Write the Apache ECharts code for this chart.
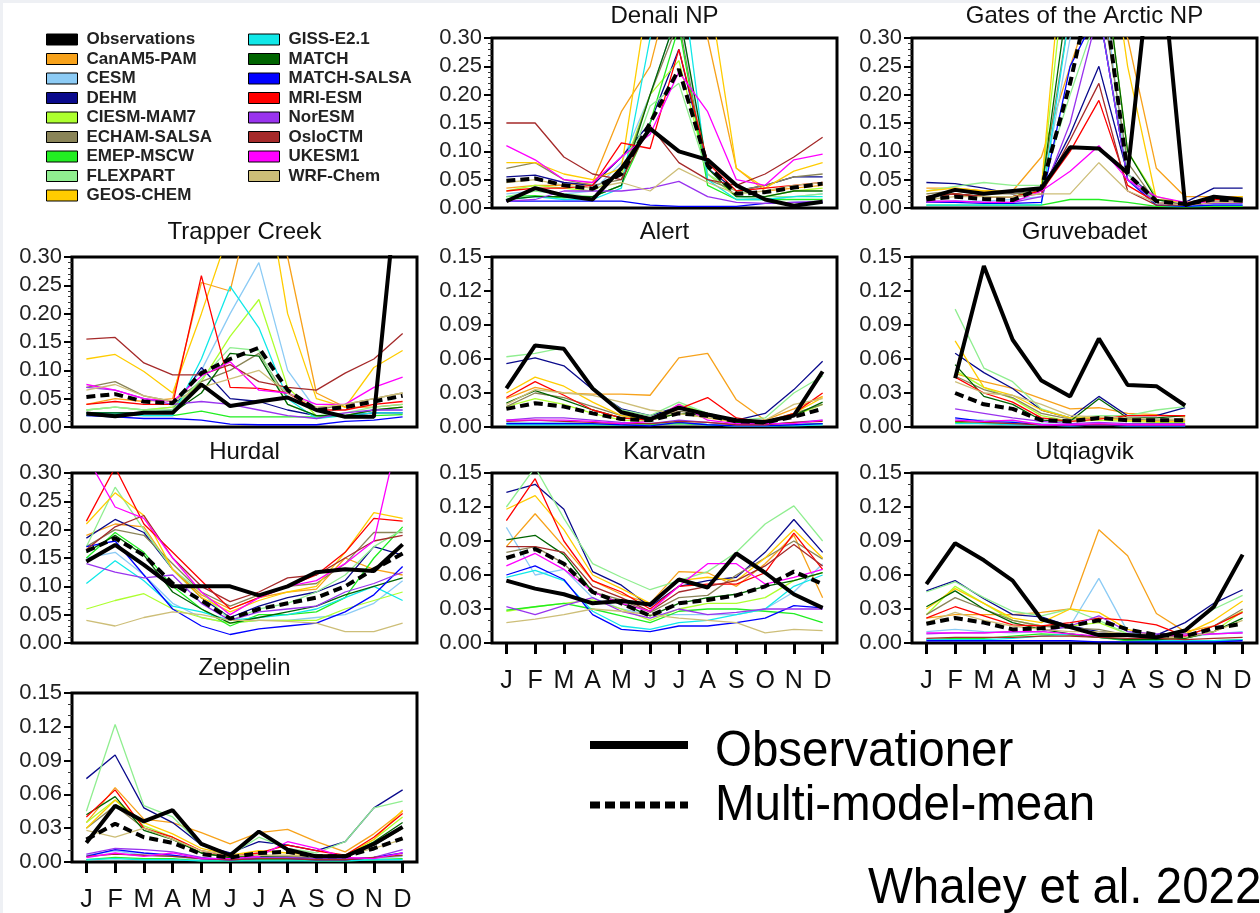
<!DOCTYPE html>
<html>
<head>
<meta charset="utf-8">
<script src="https://cdn.jsdelivr.net/npm/echarts@6/dist/echarts.min.js"></script>
<style>
  html, body { margin: 0; padding: 0; background: #fff; }
  #chart { width: 1260px; height: 913px; }
</style>
</head>
<body>
<div id="chart"></div>
<script>
// Monthly mean concentrations at Arctic / sub-Arctic stations: observations,
// 16 models and their multi-model mean.
const months = ['Jan','Feb','Mar','Apr','May','Jun','Jul','Aug','Sep','Oct','Nov','Dec'];
const monthLabels = ['J','F','M','A','M','J','J','A','S','O','N','D'];

const modelNames = ['CanAM5-PAM','CESM','DEHM','CIESM-MAM7','ECHAM-SALSA','EMEP-MSCW','FLEXPART','GEOS-CHEM',
  'GISS-E2.1','MATCH','MATCH-SALSA','MRI-ESM','NorESM','OsloCTM','UKESM1','WRF-Chem'];
const modelColors = ['#F7A21B','#8CCBF5','#0A0A8C','#ADFF2F','#8A8458','#22EE22','#90EE90','#FFCC00',
  '#11E8E8','#006400','#0000FF','#FF0000','#9933EE','#A52A2A','#FF00FF','#CDBE78'];

// ---- Denali NP ----
const denaliObs  = [0.012,0.035,0.022,0.015,0.070,0.140,0.100,0.085,0.040,0.015,0.004,0.011];
const denaliMean = [0.048,0.052,0.040,0.034,0.060,0.150,0.245,0.075,0.025,0.028,0.036,0.043];
const denaliModels = [
  [0.035,0.040,0.040,0.045,0.170,0.250,0.450,0.300,0.070,0.030,0.035,0.040],
  [0.025,0.030,0.025,0.030,0.080,0.200,0.350,0.060,0.020,0.015,0.020,0.025],
  [0.055,0.058,0.045,0.040,0.090,0.150,0.280,0.070,0.030,0.040,0.055,0.055],
  [0.030,0.040,0.035,0.030,0.060,0.200,0.260,0.060,0.020,0.020,0.030,0.035],
  [0.070,0.080,0.050,0.040,0.050,0.200,0.330,0.050,0.030,0.040,0.055,0.060],
  [0.020,0.022,0.018,0.020,0.040,0.150,0.320,0.040,0.015,0.015,0.015,0.015],
  [0.020,0.030,0.025,0.020,0.040,0.180,0.220,0.060,0.030,0.020,0.020,0.025],
  [0.080,0.080,0.060,0.050,0.070,0.400,0.600,0.400,0.070,0.035,0.065,0.080],
  [0.015,0.020,0.015,0.015,0.035,0.300,0.450,0.050,0.015,0.015,0.020,0.020],
  [0.015,0.020,0.020,0.020,0.040,0.200,0.350,0.070,0.020,0.020,0.030,0.030],
  [0.012,0.012,0.012,0.012,0.012,0.005,0.003,0.003,0.003,0.008,0.010,0.010],
  [0.030,0.035,0.035,0.040,0.115,0.105,0.280,0.080,0.030,0.035,0.040,0.045],
  [0.012,0.015,0.030,0.030,0.030,0.035,0.047,0.020,0.010,0.008,0.010,0.012],
  [0.150,0.150,0.090,0.060,0.050,0.145,0.080,0.050,0.040,0.060,0.090,0.125],
  [0.110,0.085,0.050,0.045,0.090,0.130,0.240,0.170,0.050,0.040,0.085,0.095],
  [0.045,0.050,0.040,0.035,0.045,0.030,0.070,0.045,0.025,0.030,0.040,0.045]
];

// ---- Gates of the Arctic NP ----
const gatesObs  = [0.017,0.032,0.025,0.030,0.035,0.107,0.105,0.062,0.530,0.005,0.020,0.015];
const gatesMean = [0.015,0.020,0.016,0.014,0.035,0.220,0.450,0.060,0.012,0.007,0.015,0.013];
const gatesModels = [
  [0.035,0.035,0.030,0.030,0.090,0.250,0.400,0.300,0.070,0.020,0.020,0.020],
  [0.012,0.012,0.012,0.015,0.020,0.300,0.450,0.050,0.010,0.005,0.010,0.010],
  [0.045,0.043,0.035,0.025,0.030,0.130,0.250,0.060,0.015,0.010,0.035,0.035],
  [0.020,0.025,0.020,0.020,0.035,0.500,0.500,0.100,0.020,0.008,0.015,0.015],
  [0.025,0.030,0.025,0.025,0.030,0.350,0.400,0.080,0.010,0.005,0.015,0.015],
  [0.005,0.005,0.005,0.005,0.005,0.015,0.015,0.010,0.003,0.002,0.003,0.003],
  [0.030,0.038,0.045,0.040,0.040,0.200,0.350,0.060,0.010,0.005,0.015,0.015],
  [0.030,0.035,0.030,0.030,0.035,0.600,0.600,0.250,0.015,0.010,0.015,0.020],
  [0.005,0.005,0.005,0.005,0.006,0.350,0.350,0.050,0.005,0.003,0.005,0.005],
  [0.020,0.025,0.020,0.020,0.030,0.400,0.500,0.100,0.015,0.005,0.010,0.010],
  [0.010,0.010,0.008,0.008,0.010,0.250,0.350,0.050,0.005,0.003,0.005,0.005],
  [0.020,0.025,0.020,0.020,0.030,0.100,0.190,0.040,0.010,0.005,0.015,0.015],
  [0.010,0.012,0.010,0.010,0.020,0.150,0.350,0.050,0.010,0.005,0.008,0.008],
  [0.020,0.025,0.020,0.020,0.025,0.120,0.220,0.030,0.005,0.005,0.010,0.010],
  [0.012,0.012,0.010,0.010,0.030,0.065,0.110,0.050,0.020,0.010,0.010,0.010],
  [0.015,0.020,0.020,0.020,0.025,0.025,0.080,0.030,0.010,0.005,0.010,0.010]
];

// ---- Trapper Creek ----
const trapperObs  = [0.024,0.019,0.025,0.025,0.075,0.037,0.045,0.052,0.030,0.018,0.018,0.520];
const trapperMean = [0.053,0.058,0.045,0.042,0.095,0.120,0.140,0.065,0.030,0.035,0.045,0.055];
const trapperModels = [
  [0.040,0.050,0.045,0.050,0.255,0.240,0.450,0.300,0.060,0.035,0.035,0.040],
  [0.030,0.035,0.030,0.035,0.100,0.200,0.290,0.100,0.030,0.020,0.030,0.030],
  [0.025,0.025,0.025,0.030,0.105,0.050,0.045,0.030,0.020,0.020,0.025,0.025],
  [0.030,0.035,0.030,0.035,0.080,0.160,0.225,0.070,0.020,0.020,0.030,0.035],
  [0.070,0.080,0.055,0.045,0.080,0.100,0.130,0.050,0.030,0.040,0.050,0.060],
  [0.020,0.022,0.020,0.020,0.028,0.018,0.018,0.018,0.018,0.020,0.020,0.022],
  [0.030,0.035,0.030,0.030,0.085,0.140,0.135,0.040,0.020,0.025,0.035,0.040],
  [0.120,0.128,0.098,0.060,0.200,0.350,0.500,0.200,0.050,0.035,0.105,0.135],
  [0.025,0.025,0.020,0.020,0.120,0.248,0.175,0.050,0.015,0.020,0.025,0.025],
  [0.025,0.025,0.025,0.025,0.060,0.130,0.125,0.040,0.020,0.020,0.030,0.035],
  [0.020,0.018,0.015,0.015,0.012,0.005,0.004,0.004,0.004,0.010,0.012,0.018],
  [0.040,0.045,0.040,0.040,0.267,0.070,0.068,0.060,0.030,0.030,0.040,0.045],
  [0.070,0.065,0.050,0.040,0.045,0.040,0.030,0.020,0.015,0.025,0.030,0.030],
  [0.155,0.158,0.113,0.092,0.092,0.110,0.080,0.070,0.065,0.095,0.120,0.165],
  [0.075,0.065,0.050,0.045,0.090,0.115,0.065,0.060,0.040,0.040,0.070,0.088],
  [0.065,0.075,0.055,0.045,0.070,0.085,0.100,0.060,0.035,0.040,0.050,0.060]
];

// ---- Alert ----
const alertObs  = [0.034,0.072,0.069,0.034,0.013,0.007,0.017,0.011,0.006,0.0045,0.010,0.049];
const alertMean = [0.016,0.021,0.018,0.012,0.007,0.006,0.012,0.010,0.005,0.004,0.009,0.016];
const alertModels = [
  [0.025,0.035,0.030,0.029,0.029,0.028,0.061,0.065,0.024,0.006,0.016,0.027],
  [0.004,0.004,0.004,0.003,0.002,0.002,0.003,0.002,0.001,0.001,0.002,0.003],
  [0.056,0.061,0.054,0.033,0.016,0.010,0.018,0.012,0.006,0.012,0.033,0.058],
  [0.018,0.025,0.020,0.012,0.006,0.005,0.020,0.012,0.004,0.004,0.010,0.020],
  [0.018,0.030,0.026,0.018,0.010,0.007,0.014,0.010,0.005,0.005,0.012,0.020],
  [0.003,0.003,0.003,0.002,0.002,0.002,0.003,0.002,0.001,0.001,0.002,0.003],
  [0.062,0.065,0.070,0.035,0.015,0.010,0.022,0.012,0.006,0.008,0.030,0.045],
  [0.030,0.044,0.036,0.022,0.010,0.006,0.012,0.008,0.004,0.004,0.012,0.026],
  [0.002,0.002,0.002,0.002,0.002,0.003,0.004,0.002,0.001,0.001,0.001,0.002],
  [0.021,0.032,0.024,0.015,0.008,0.006,0.012,0.010,0.004,0.004,0.010,0.022],
  [0.003,0.003,0.003,0.003,0.002,0.001,0.004,0.002,0.001,0.001,0.002,0.003],
  [0.026,0.040,0.028,0.015,0.008,0.006,0.016,0.026,0.008,0.004,0.012,0.030],
  [0.006,0.008,0.008,0.006,0.004,0.003,0.006,0.004,0.002,0.002,0.004,0.006],
  [0.005,0.006,0.005,0.004,0.003,0.003,0.005,0.004,0.002,0.002,0.004,0.005],
  [0.006,0.006,0.006,0.005,0.003,0.005,0.020,0.006,0.003,0.003,0.003,0.006],
  [0.020,0.033,0.030,0.028,0.022,0.015,0.012,0.008,0.005,0.006,0.020,0.025]
];

// ---- Gruvebadet (Feb-Oct only) ----
const gruveObs  = [null,0.043,0.142,0.077,0.041,0.027,0.078,0.037,0.036,0.019,null,null];
const gruveMean = [null,0.030,0.020,0.016,0.006,0.005,0.008,0.006,0.006,0.006,null,null];
const gruveModels = [
  [null,0.047,0.040,0.034,0.025,0.016,0.017,0.012,0.011,0.009,null,null],
  [null,0.007,0.006,0.005,0.003,0.002,0.003,0.002,0.002,0.002,null,null],
  [null,0.065,0.048,0.034,0.015,0.008,0.027,0.010,0.010,0.017,null,null],
  [null,0.050,0.035,0.025,0.010,0.005,0.006,0.005,0.004,0.004,null,null],
  [null,0.045,0.033,0.026,0.012,0.007,0.008,0.007,0.006,0.006,null,null],
  [null,0.004,0.003,0.003,0.002,0.001,0.002,0.001,0.001,0.001,null,null],
  [null,0.104,0.052,0.040,0.016,0.008,0.010,0.010,0.015,0.018,null,null],
  [null,0.076,0.035,0.028,0.015,0.008,0.008,0.006,0.005,0.005,null,null],
  [null,0.003,0.003,0.002,0.002,0.001,0.002,0.001,0.001,0.001,null,null],
  [null,0.055,0.027,0.020,0.006,0.005,0.025,0.008,0.008,0.010,null,null],
  [null,0.008,0.005,0.004,0.002,0.001,0.002,0.001,0.001,0.001,null,null],
  [null,0.044,0.030,0.022,0.008,0.005,0.007,0.010,0.010,0.010,null,null],
  [null,0.016,0.012,0.008,0.005,0.003,0.004,0.003,0.003,0.003,null,null],
  [null,0.005,0.004,0.003,0.002,0.002,0.002,0.002,0.002,0.002,null,null],
  [null,0.006,0.005,0.006,0.002,0.002,0.003,0.002,0.002,0.002,null,null],
  [null,0.040,0.030,0.028,0.020,0.010,0.009,0.008,0.007,0.007,null,null]
];

// ---- Hurdal ----
const hurdalObs  = [0.144,0.173,0.138,0.100,0.100,0.100,0.084,0.100,0.125,0.130,0.127,0.174];
const hurdalMean = [0.162,0.185,0.155,0.105,0.075,0.043,0.060,0.070,0.080,0.100,0.130,0.158];
const hurdalModels = [
  [0.190,0.210,0.205,0.130,0.085,0.060,0.080,0.090,0.095,0.150,0.130,0.120],
  [0.150,0.160,0.120,0.070,0.045,0.035,0.040,0.040,0.045,0.050,0.070,0.110],
  [0.185,0.218,0.195,0.130,0.080,0.045,0.065,0.080,0.090,0.110,0.170,0.155],
  [0.060,0.075,0.087,0.060,0.045,0.035,0.040,0.040,0.040,0.060,0.075,0.090],
  [0.170,0.200,0.190,0.140,0.090,0.065,0.085,0.100,0.105,0.140,0.195,0.195],
  [0.150,0.195,0.160,0.100,0.060,0.030,0.050,0.050,0.055,0.080,0.150,0.205],
  [0.170,0.275,0.200,0.130,0.090,0.040,0.060,0.070,0.090,0.120,0.170,0.200],
  [0.210,0.265,0.225,0.130,0.080,0.055,0.075,0.090,0.100,0.160,0.230,0.220],
  [0.105,0.145,0.110,0.065,0.055,0.040,0.045,0.050,0.060,0.080,0.100,0.075],
  [0.160,0.190,0.155,0.090,0.060,0.035,0.045,0.055,0.065,0.085,0.100,0.115],
  [0.170,0.180,0.120,0.060,0.030,0.015,0.025,0.030,0.035,0.055,0.085,0.135],
  [0.215,0.310,0.210,0.160,0.110,0.060,0.080,0.100,0.120,0.160,0.220,0.215],
  [0.140,0.125,0.115,0.120,0.070,0.040,0.055,0.060,0.065,0.090,0.105,0.125],
  [0.165,0.205,0.225,0.150,0.100,0.073,0.090,0.115,0.120,0.150,0.180,0.190],
  [0.330,0.240,0.220,0.150,0.090,0.050,0.080,0.100,0.110,0.140,0.180,0.400],
  [0.040,0.030,0.045,0.055,0.050,0.040,0.040,0.038,0.035,0.020,0.020,0.035]
];

// ---- Karvatn ----
const karvatnObs  = [0.055,0.048,0.043,0.035,0.037,0.034,0.056,0.049,0.079,0.062,0.043,0.031];
const karvatnMean = [0.075,0.083,0.070,0.045,0.035,0.024,0.035,0.038,0.042,0.050,0.063,0.052];
const karvatnModels = [
  [0.085,0.114,0.085,0.055,0.043,0.035,0.063,0.062,0.050,0.070,0.095,0.040],
  [0.102,0.060,0.065,0.040,0.030,0.025,0.025,0.025,0.025,0.030,0.045,0.070],
  [0.133,0.140,0.118,0.063,0.051,0.032,0.050,0.055,0.058,0.080,0.109,0.080],
  [0.028,0.032,0.035,0.038,0.030,0.020,0.030,0.035,0.035,0.040,0.055,0.062],
  [0.080,0.085,0.070,0.045,0.038,0.027,0.040,0.042,0.060,0.075,0.090,0.074],
  [0.029,0.032,0.035,0.030,0.024,0.018,0.028,0.030,0.030,0.028,0.026,0.018],
  [0.120,0.155,0.110,0.070,0.058,0.047,0.055,0.063,0.080,0.105,0.121,0.090],
  [0.118,0.130,0.100,0.060,0.048,0.035,0.055,0.058,0.055,0.075,0.100,0.075],
  [0.058,0.064,0.055,0.028,0.015,0.012,0.018,0.020,0.025,0.030,0.050,0.060],
  [0.091,0.095,0.078,0.045,0.035,0.024,0.035,0.040,0.043,0.050,0.055,0.062],
  [0.060,0.068,0.056,0.025,0.012,0.010,0.015,0.015,0.018,0.022,0.033,0.031],
  [0.108,0.145,0.090,0.055,0.045,0.030,0.050,0.052,0.052,0.062,0.097,0.065],
  [0.032,0.025,0.033,0.040,0.028,0.022,0.030,0.025,0.027,0.030,0.030,0.030],
  [0.085,0.085,0.080,0.050,0.040,0.028,0.045,0.050,0.055,0.068,0.087,0.068],
  [0.068,0.079,0.065,0.045,0.035,0.028,0.050,0.070,0.070,0.052,0.058,0.065],
  [0.018,0.021,0.025,0.030,0.028,0.025,0.022,0.020,0.018,0.009,0.012,0.011]
];

// ---- Utqiagvik ----
const utqObs  = [0.052,0.088,0.073,0.055,0.021,0.014,0.007,0.007,0.005,0.011,0.032,0.078];
const utqMean = [0.017,0.022,0.018,0.012,0.013,0.015,0.020,0.012,0.007,0.006,0.013,0.017];
const utqModels = [
  [0.022,0.025,0.025,0.025,0.027,0.030,0.100,0.077,0.026,0.010,0.015,0.028],
  [0.010,0.012,0.010,0.009,0.010,0.015,0.057,0.010,0.005,0.005,0.008,0.010],
  [0.046,0.055,0.039,0.025,0.023,0.015,0.010,0.008,0.007,0.018,0.035,0.047],
  [0.025,0.050,0.035,0.020,0.015,0.015,0.018,0.008,0.004,0.004,0.010,0.028],
  [0.025,0.040,0.030,0.020,0.015,0.013,0.012,0.007,0.005,0.006,0.015,0.030],
  [0.003,0.004,0.004,0.006,0.008,0.007,0.005,0.002,0.002,0.002,0.002,0.003],
  [0.045,0.054,0.040,0.028,0.024,0.030,0.020,0.008,0.006,0.012,0.030,0.042],
  [0.030,0.048,0.035,0.022,0.018,0.030,0.027,0.012,0.006,0.008,0.020,0.037],
  [0.003,0.003,0.003,0.004,0.006,0.008,0.005,0.003,0.002,0.002,0.002,0.003],
  [0.032,0.046,0.030,0.018,0.012,0.008,0.005,0.003,0.003,0.004,0.010,0.022],
  [0.002,0.002,0.002,0.002,0.002,0.002,0.001,0.001,0.001,0.001,0.001,0.002],
  [0.022,0.032,0.024,0.016,0.015,0.018,0.022,0.020,0.016,0.006,0.015,0.027],
  [0.008,0.009,0.009,0.010,0.010,0.015,0.024,0.010,0.008,0.008,0.008,0.009],
  [0.004,0.005,0.005,0.005,0.006,0.006,0.005,0.004,0.004,0.003,0.004,0.005],
  [0.009,0.009,0.009,0.010,0.010,0.008,0.006,0.006,0.006,0.007,0.008,0.009],
  [0.018,0.027,0.020,0.015,0.012,0.010,0.010,0.008,0.005,0.005,0.010,0.020]
];

// ---- Zeppelin ----
const zepObs  = [0.017,0.050,0.036,0.046,0.016,0.006,0.027,0.011,0.005,0.005,0.016,0.031];
const zepMean = [0.020,0.034,0.022,0.017,0.007,0.004,0.008,0.009,0.005,0.005,0.012,0.021];
const zepModels = [
  [0.035,0.066,0.038,0.035,0.026,0.016,0.026,0.029,0.018,0.009,0.025,0.045],
  [0.006,0.010,0.006,0.005,0.002,0.002,0.003,0.003,0.002,0.002,0.003,0.005],
  [0.074,0.095,0.048,0.035,0.015,0.008,0.018,0.015,0.010,0.018,0.048,0.064],
  [0.035,0.055,0.032,0.022,0.008,0.004,0.006,0.005,0.003,0.005,0.020,0.040],
  [0.030,0.050,0.030,0.020,0.008,0.004,0.006,0.005,0.004,0.005,0.015,0.030],
  [0.002,0.004,0.003,0.003,0.001,0.001,0.002,0.002,0.001,0.001,0.002,0.003],
  [0.045,0.122,0.050,0.040,0.015,0.006,0.022,0.012,0.008,0.018,0.048,0.054],
  [0.030,0.055,0.035,0.025,0.012,0.006,0.010,0.008,0.006,0.006,0.020,0.046],
  [0.002,0.003,0.002,0.002,0.001,0.001,0.001,0.001,0.001,0.001,0.002,0.002],
  [0.042,0.058,0.028,0.020,0.008,0.004,0.005,0.004,0.003,0.005,0.018,0.035],
  [0.005,0.011,0.008,0.006,0.003,0.002,0.003,0.003,0.002,0.002,0.004,0.008],
  [0.040,0.064,0.030,0.022,0.010,0.005,0.008,0.015,0.010,0.006,0.022,0.043],
  [0.007,0.012,0.011,0.009,0.004,0.002,0.004,0.004,0.003,0.003,0.004,0.011],
  [0.005,0.007,0.006,0.005,0.003,0.002,0.003,0.003,0.002,0.002,0.004,0.006],
  [0.004,0.008,0.005,0.008,0.003,0.003,0.005,0.018,0.012,0.004,0.003,0.008],
  [0.028,0.022,0.030,0.020,0.010,0.006,0.006,0.006,0.005,0.006,0.012,0.020]
];

const stationTitles = ['Denali NP','Gates of the Arctic NP','Trapper Creek','Alert','Gruvebadet',
  'Hurdal','Karvatn','Utqiagvik','Zeppelin'];
const stationObs   = [denaliObs, gatesObs, trapperObs, alertObs, gruveObs, hurdalObs, karvatnObs, utqObs, zepObs];
const stationMean  = [denaliMean, gatesMean, trapperMean, alertMean, gruveMean, hurdalMean, karvatnMean, utqMean, zepMean];
const stationModels = [denaliModels, gatesModels, trapperModels, alertModels, gruveModels, hurdalModels, karvatnModels, utqModels, zepModels];
const stationYMax  = [0.30, 0.30, 0.30, 0.15, 0.15, 0.30, 0.15, 0.15, 0.15];

// ---- panel layout (pixels) ----
const panelLeft = [492, 912, 72, 492, 912, 72, 492, 912, 72];
const panelTop  = [38, 38, 257, 257, 257, 473, 473, 473, 693];
const panelW = 345, panelH = 170;
const titleTop  = [4, 4, 220, 220, 220, 440, 440, 440, 656];
const showMonths = [false, false, false, false, false, false, true, true, true];

const REG = "'Liberation Sans', Arial, Helvetica, sans-serif";

const grids = [], xAxes = [], yAxes = [], titles = [], series = [];

stationTitles.forEach((name, i) => {
  grids.push({
    left: panelLeft[i], top: panelTop[i], width: panelW, height: panelH,
    show: true, borderColor: '#000', borderWidth: 3, backgroundColor: 'transparent'
  });
  xAxes.push({
    type: 'category', gridIndex: i, data: months, boundaryGap: true,
    axisLine: { show: false },
    axisTick: { show: showMonths[i], alignWithLabel: true, length: 11, inside: false,
      lineStyle: { color: '#000', width: 3 } },
    axisLabel: { show: showMonths[i], interval: 0, margin: 26, color: '#111',
      fontSize: 25, fontFamily: REG, formatter: (v, idx) => monthLabels[idx] },
    splitLine: { show: false }
  });
  const ymax = stationYMax[i];
  yAxes.push({
    type: 'value', gridIndex: i, min: 0, max: ymax, interval: ymax === 0.30 ? 0.05 : 0.03,
    axisLine: { show: false },
    axisTick: { show: true, length: 8, inside: false, lineStyle: { color: '#000', width: 2 } },
    minorTick: { show: true, splitNumber: ymax === 0.30 ? 5 : 3, length: 4,
      lineStyle: { color: '#333', width: 1 } },
    axisLabel: { margin: 10, color: '#222', fontSize: 22, fontFamily: REG,
      formatter: v => v.toFixed(2) },
    splitLine: { show: false }
  });
  titles.push({
    text: name, left: panelLeft[i] + panelW / 2, top: titleTop[i], textAlign: 'center',
    padding: 0,
    textStyle: { fontSize: 24, fontWeight: 'normal', color: '#111', fontFamily: REG }
  });

  stationModels[i].forEach((vals, j) => {
    series.push({
      type: 'line', name: modelNames[j], xAxisIndex: i, yAxisIndex: i, data: vals,
      color: modelColors[j], symbol: 'none', silent: true, z: 2,
      lineStyle: { width: 1.3, color: modelColors[j] }
    });
  });
  series.push({
    type: 'line', name: 'Multi-model-mean', xAxisIndex: i, yAxisIndex: i, data: stationMean[i],
    color: '#000', symbol: 'none', silent: true, z: 3,
    lineStyle: { width: 4, color: '#000', type: [9, 5] }
  });
  series.push({
    type: 'line', name: 'Observations', xAxisIndex: i, yAxisIndex: i, data: stationObs[i],
    color: '#000', symbol: 'none', silent: true, z: 4,
    lineStyle: { width: 4, color: '#000' }
  });
});

const legendCommon = {
  orient: 'vertical', icon: 'rect', itemWidth: 31, itemHeight: 11, itemGap: 2.5, padding: 0,
  selectedMode: false,
  itemStyle: { borderColor: '#000', borderWidth: 1 },
  textStyle: { fontSize: 17, fontWeight: 'bold', color: '#222', fontFamily: REG,
    lineHeight: 17, padding: [0, 0, 0, 4] }
};

// condensed lettering for the large key at the lower right
const keyText = (txt, x, y) => ({
  type: 'text', x: x, y: y, scaleX: 0.95, silent: true,
  style: { text: txt, fontSize: 50, fontFamily: REG, fill: '#000',
    verticalAlign: 'middle', align: 'left' }
});

const option = {
  animation: false,
  backgroundColor: '#fff',
  title: titles,
  legend: [
    Object.assign({}, legendCommon, { left: 46, top: 31,
      data: ['Observations'].concat(modelNames.slice(0, 8)) }),
    Object.assign({}, legendCommon, { left: 248, top: 31, data: modelNames.slice(8) })
  ],
  grid: grids,
  xAxis: xAxes,
  yAxis: yAxes,
  series: series,
  graphic: [
    { type: 'rect', shape: { x: 0, y: 0, width: 1260, height: 3 }, style: { fill: '#eef0f4' }, silent: true },
    { type: 'rect', shape: { x: 0, y: 0, width: 3, height: 913 }, style: { fill: '#eef0f4' }, silent: true },
    { type: 'line', shape: { x1: 590, y1: 745, x2: 688, y2: 745 },
      style: { stroke: '#000', lineWidth: 8 }, silent: true },
    { type: 'line', shape: { x1: 590, y1: 805, x2: 688, y2: 805 },
      style: { stroke: '#000', lineWidth: 7, lineDash: [10, 5] }, silent: true },
    keyText('Observationer', 715, 752),
    keyText('Multi-model-mean', 715, 806),
    keyText('Whaley et al. 2022', 868, 889)
  ]
};

const chart = echarts.init(document.getElementById('chart'), null, { renderer: 'canvas' });
chart.setOption(option);
</script>
</body>
</html>
